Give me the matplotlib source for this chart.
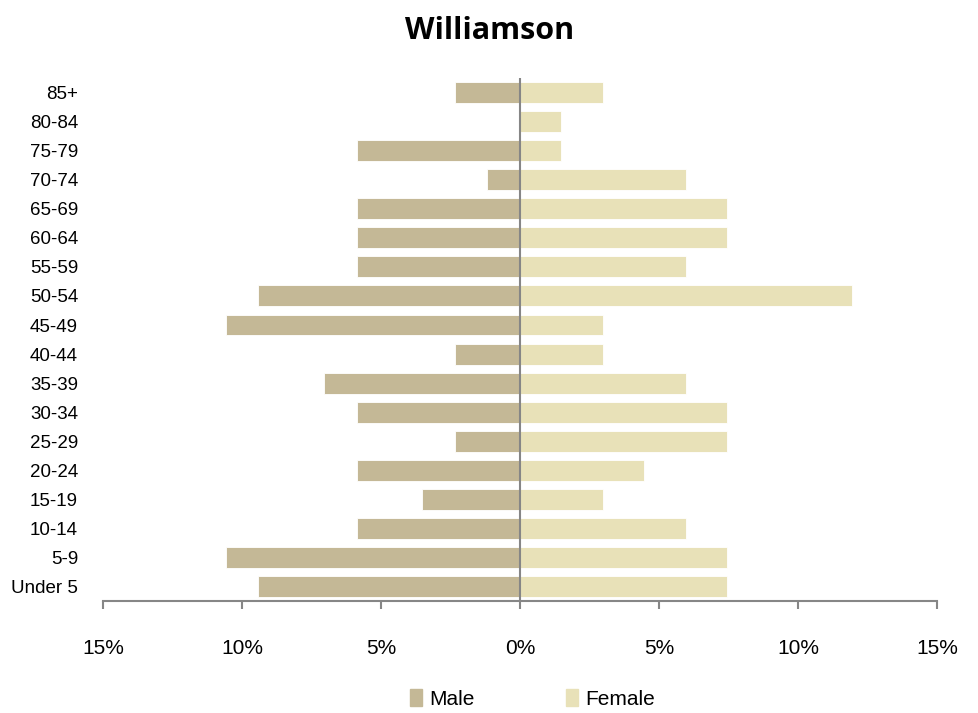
import matplotlib.pyplot as plt
import numpy as np
from matplotlib.ticker import FuncFormatter
from matplotlib.patches import Patch

plt.rcParams['font.family'] = ['Liberation Sans', 'DejaVu Sans']

# age groups, bottom to top
ages = ['Under 5', '5-9', '10-14', '15-19', '20-24', '25-29', '30-34', '35-39',
        '40-44', '45-49', '50-54', '55-59', '60-64', '65-69', '70-74', '75-79',
        '80-84', '85+']
# percent of population
male = [9.41, 10.59, 5.88, 3.53, 5.88, 2.35, 5.88, 7.06,
        2.35, 10.59, 9.41, 5.88, 5.88, 5.88, 1.18, 5.88,
        0.0, 2.35]
female = [7.46, 7.46, 5.97, 2.99, 4.48, 7.46, 7.46, 5.97,
          2.99, 2.99, 11.94, 5.97, 7.46, 7.46, 5.97, 1.49,
          1.49, 2.99]
xticks = [-15, -10, -5, 0, 5, 10, 15]

male_col = '#C4B896'
female_col = '#E8E1B8'
grey = '#868686'

fig = plt.figure(figsize=(9.79, 7.13), dpi=100)
ax = fig.add_axes([0.1052, 0.157, 0.8518, 0.7336])

y = np.arange(len(ages))
ax.barh(y, [-m for m in male], height=0.72, color=male_col, edgecolor='white', linewidth=0.6)
ax.barh(y, female, height=0.72, color=female_col, edgecolor='white', linewidth=0.6)

ax.set_xlim(-15, 15)
ax.set_ylim(-0.5, len(ages) - 0.5)
ax.axvline(0, color=grey, lw=1.5, zorder=3)

for s in ['top', 'right', 'left']:
    ax.spines[s].set_visible(False)
ax.spines['bottom'].set_color(grey)
ax.spines['bottom'].set_linewidth(1.5)

ax.set_xticks(xticks)
ax.xaxis.set_major_formatter(FuncFormatter(lambda v, p: '%d%%' % abs(v)))
ax.tick_params(axis='x', direction='out', length=6, width=1.5, color=grey,
               labelsize=15, pad=21)
ax.set_yticks(y)
ax.set_yticklabels(ages)
ax.tick_params(axis='y', length=0, labelsize=13.5, pad=18)

fig.suptitle('Williamson', fontsize=22, fontweight='bold', y=0.978,
             family=['Open Sans', 'DejaVu Sans'])

handles = [Patch(color=male_col, label='Male'), Patch(color=female_col, label='Female')]
fig.legend(handles=handles, loc='lower center', bbox_to_anchor=(0.544, -0.02), ncol=2,
           frameon=False, fontsize=15, handlelength=0.55, handleheight=0.85,
           columnspacing=4.4, handletextpad=0.35)

fig.savefig('out.png', dpi=100)
